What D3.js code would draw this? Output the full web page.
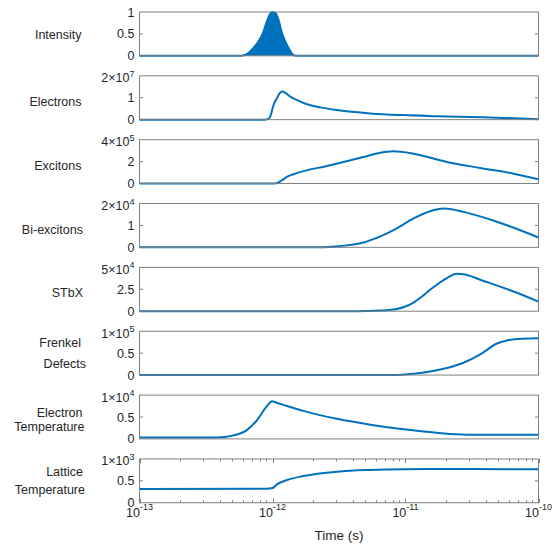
<!DOCTYPE html>
<html><head><meta charset="utf-8">
<script src="https://cdn.jsdelivr.net/npm/d3@7"></script>
<style>body{margin:0;background:#fff}svg{display:block}</style>
</head><body><svg id="c" width="557" height="544"></svg>
<script>
// ---------- data ----------
const panelLabels = [["Intensity"],["Electrons"],["Excitons"],["Bi-excitons"],["STbX"],["Frenkel","Defects"],["Electron","Temperature"],["Lattice","Temperature"]];
const yMaxValues = [1, 2e7, 4e5, 2e4, 5e4, 1e5, 1e4, 1e3];
const yMidValues = [0.5, 1e7, 2e5, 1e4, 2.5e4, 0.5e5, 0.5e4, 0.5e3];
const xTickValues = [1e-13, 1e-12, 1e-11, 1e-10];
const xTickExponents = ["-13", "-12", "-11", "-10"];
const xLabel = "Time (s)";

const intensityTime = [0.1e-12,0.55e-12,0.62e-12,0.70e-12,0.785e-12,0.847e-12,0.916e-12,0.97e-12,1.0e-12,1.05e-12,1.11e-12,1.178e-12,1.247e-12,1.343e-12,1.43e-12,1.5e-12,100e-12];
const intensityValue = [0,0,0.02,0.14,0.33,0.52,0.82,0.98,1.0,0.98,0.82,0.52,0.33,0.14,0.02,0,0];

const electronsTime = [0.1e-12,0.8e-12,0.9e-12,0.95e-12,0.98e-12,1.01e-12,1.04e-12,1.08e-12,1.13e-12,1.18e-12,1.25e-12,1.36e-12,1.52e-12,1.71e-12,2.29e-12,3.05e-12,5.43e-12,9.66e-12,17.2e-12,30.6e-12,54.6e-12,100e-12];
const electronsValue = [0,0,0.01e7,0.08e7,0.3e7,0.6e7,0.8e7,0.98e7,1.2e7,1.28e7,1.22e7,1.05e7,0.9e7,0.76e7,0.56e7,0.44e7,0.285e7,0.207e7,0.16e7,0.12e7,0.08e7,0.02e7];

const excitonsTime = [0.1e-12,1.047e-12,1.18e-12,1.28e-12,1.44e-12,2.72e-12,4.83e-12,6.46e-12,8.13e-12,11.5e-12,20.5e-12,36.5e-12,64.9e-12,100e-12];
const excitonsValue = [0,0,0.3e5,0.6e5,0.85e5,1.67e5,2.42e5,2.8e5,2.94e5,2.72e5,1.97e5,1.42e5,0.9e5,0.39e5];

const biexcitonsTime = [0.1e-12,2.03e-12,3.0e-12,3.62e-12,4.83e-12,6.46e-12,8.61e-12,11.5e-12,15.3e-12,19.3e-12,27.3e-12,48.6e-12,100e-12];
const biexcitonsValue = [0,0,0.04e4,0.09e4,0.225e4,0.5e4,0.87e4,1.32e4,1.65e4,1.77e4,1.62e4,1.17e4,0.45e4];

const stbxTime = [0.1e-12,4.0e-12,5.0e-12,6.46e-12,7.24e-12,8.61e-12,9.95e-12,11.5e-12,13.3e-12,15.3e-12,20.5e-12,24.3e-12,28e-12,36.5e-12,64.9e-12,100e-12];
const stbxValue = [0,0,0.02e4,0.07e4,0.12e4,0.25e4,0.53e4,0.99e4,1.67e4,2.44e4,3.78e4,4.28e4,4.2e4,3.59e4,2.25e4,1.1e4];

const frenkelTime = [0.1e-12,8e-12,11.5e-12,15.3e-12,20.5e-12,27.3e-12,36.5e-12,48.6e-12,57.9e-12,75.1e-12,100e-12];
const frenkelValue = [0,0,0.03e5,0.08e5,0.16e5,0.28e5,0.47e5,0.72e5,0.79e5,0.83e5,0.84e5];

const electronTempTime = [0.1e-12,0.38e-12,0.51e-12,0.642e-12,0.763e-12,0.908e-12,0.99e-12,1.06e-12,1.29e-12,1.71e-12,3.05e-12,5.43e-12,9.66e-12,17.2e-12,29e-12,100e-12];
const electronTempValue = [0.03e4,0.03e4,0.08e4,0.2e4,0.425e4,0.747e4,0.86e4,0.83e4,0.75e4,0.64e4,0.46e4,0.325e4,0.22e4,0.14e4,0.097e4,0.095e4];

const latticeTempTime = [0.1e-12,0.9e-12,1.0e-12,1.08e-12,1.29e-12,1.71e-12,3.05e-12,5.43e-12,10e-12,30e-12,100e-12];
const latticeTempValue = [0.313e3,0.32e3,0.335e3,0.42e3,0.52e3,0.61e3,0.71e3,0.75e3,0.765e3,0.77e3,0.765e3];

const seriesTimes = [intensityTime, electronsTime, excitonsTime, biexcitonsTime, stbxTime, frenkelTime, electronTempTime, latticeTempTime];
const seriesValues = [intensityValue, electronsValue, excitonsValue, biexcitonsValue, stbxValue, frenkelValue, electronTempValue, latticeTempValue];

// ---------- layout ----------
const plotLeft = 139.5, plotRight = 538.5;
const firstTop = 12, panelStep = 63.85, panelH = 43.8;
const labelLayout = [
  {dy:[27.3], x:[81.5]}, {dy:[30], x:[81.5]}, {dy:[30], x:[81.5]}, {dy:[30], x:[83]},
  {dy:[29.6], x:[83]}, {dy:[16,36.6], x:[81,86]}, {dy:[22.3,36], x:[82.5,84.5]}, {dy:[16.7,35], x:[83,85]}
];
const blue = "#0072BD", textCol = "#262626", axisCol = "#808080";
const fontFam = "'Liberation Sans', Arial, Helvetica, sans-serif";

const svg = d3.select("#c");
svg.append("rect").attr("width",557).attr("height",544).attr("fill","#fff");

const x = d3.scaleLog().domain([1e-13, 1e-10]).range([plotLeft, plotRight]);

panelLabels.forEach((lab, i) => {
  const top = firstTop + i*panelStep, bottom = top + panelH;
  const y = d3.scaleLinear().domain([0, yMaxValues[i]]).range([bottom, top]);
  const g = svg.append("g");
  const data = seriesTimes[i].map((t, k) => ({t, v: seriesValues[i][k]}));

  if (i === 0) {
    const area = d3.area().x(d => x(d.t)).y0(y(0)).y1(d => y(d.v)).curve(d3.curveMonotoneX);
    g.append("path").attr("d", area(data)).attr("fill", blue);
  }
  const line = d3.line().x(d => x(d.t)).y(d => y(d.v)).curve(d3.curveMonotoneX);
  g.append("path").attr("d", line(data)).attr("fill","none").attr("stroke", blue)
    .attr("stroke-width", 2).attr("stroke-linejoin","round");

  // box
  g.append("rect").attr("x", plotLeft).attr("y", top).attr("width", plotRight-plotLeft).attr("height", panelH)
    .attr("fill","none").attr("stroke", axisCol).attr("stroke-width", 1);

  // y ticks (mid)
  const ym = y(yMidValues[i]);
  g.append("line").attr("x1", plotLeft).attr("x2", plotLeft+3.5).attr("y1", ym).attr("y2", ym).attr("stroke", axisCol);
  g.append("line").attr("x1", plotRight).attr("x2", plotRight-3.5).attr("y1", ym).attr("y2", ym).attr("stroke", axisCol);

  // y tick labels
  const ymax = yMaxValues[i];
  const ex = ymax >= 10 ? Math.floor(Math.log10(ymax)) : 0;
  const fmt = v => String(+(v / Math.pow(10, ex)).toFixed(3));
  const tx = plotLeft - 5;
  [0, yMidValues[i]].forEach(v => {
    g.append("text").attr("x", tx).attr("y", y(v) + 4.5).attr("text-anchor","end")
      .attr("font-family", fontFam).attr("font-size", 12.5).attr("fill", textCol).text(fmt(v));
  });
  const tt = g.append("text").attr("x", tx).attr("y", ex ? top + 6.5 : top + 4.5).attr("text-anchor","end")
    .attr("font-family", fontFam).attr("font-size", 12.5).attr("fill", textCol);
  if (ex) {
    tt.append("tspan").text(fmt(ymax) + "\u00d710");
    tt.append("tspan").attr("dy", -5.5).attr("font-size", 9).text(String(ex));
  } else {
    tt.text(fmt(ymax));
  }

  // panel label
  lab.forEach((s, k) => {
    g.append("text").attr("x", labelLayout[i].x[k]).attr("y", top + labelLayout[i].dy[k])
      .attr("text-anchor","end").attr("font-family", fontFam).attr("font-size", 12.5)
      .attr("fill", textCol).text(s);
  });

  // x axis on last panel
  if (i === panelLabels.length - 1) {
    const major = new Set(xTickValues.map(v => v.toExponential()));
    x.ticks().forEach(v => {
      const isMajor = major.has(v.toExponential());
      const len = isMajor ? 4 : 2.5;
      const px = Math.round(x(v)) + 0.5;
      g.append("line").attr("x1", px).attr("x2", px).attr("y1", bottom).attr("y2", bottom - len).attr("stroke", axisCol);
      g.append("line").attr("x1", px).attr("x2", px).attr("y1", top).attr("y2", top + len).attr("stroke", axisCol);
    });
    xTickValues.forEach((v, k) => {
      const t = g.append("text").attr("x", x(v)).attr("y", bottom + 14).attr("text-anchor","middle")
        .attr("font-family", fontFam).attr("font-size", 12.5).attr("fill", textCol);
      t.append("tspan").text("10");
      t.append("tspan").attr("dy", -6.5).attr("font-size", 9).text(xTickExponents[k]);
    });
    svg.append("text").attr("x", (plotLeft+plotRight)/2).attr("y", 540).attr("text-anchor","middle")
      .attr("font-family", fontFam).attr("font-size", 13.5).attr("fill", textCol).text(xLabel);
  }
});
</script></body></html>
